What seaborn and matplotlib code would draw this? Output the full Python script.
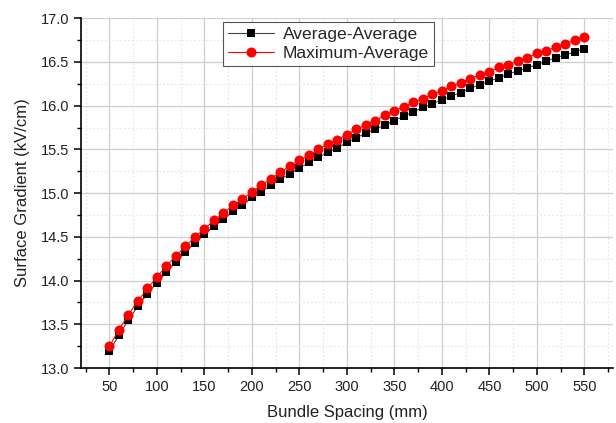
import numpy as np
import pandas as pd
import seaborn as sns
import matplotlib
matplotlib.use("Agg")
import matplotlib.pyplot as plt
from matplotlib.ticker import MultipleLocator
from matplotlib.lines import Line2D

spacing = list(range(50, 551, 10))
avg_avg = [13.19, 13.38, 13.55, 13.71, 13.85, 13.975, 14.10, 14.21, 14.33, 14.43,
           14.53, 14.62, 14.70, 14.79, 14.86, 14.95, 15.015, 15.09, 15.16, 15.22,
           15.29, 15.35, 15.41, 15.465, 15.52, 15.58, 15.63, 15.69, 15.73, 15.78,
           15.83, 15.88, 15.93, 15.98, 16.02, 16.07, 16.11, 16.15, 16.20, 16.24,
           16.28, 16.32, 16.36, 16.40, 16.43, 16.47, 16.51, 16.55, 16.58, 16.615,
           16.65]
max_avg = [13.25, 13.44, 13.61, 13.77, 13.91, 14.04, 14.17, 14.28, 14.39, 14.50,
           14.59, 14.69, 14.77, 14.86, 14.93, 15.015, 15.09, 15.165, 15.24, 15.31,
           15.377, 15.43, 15.50, 15.56, 15.61, 15.67, 15.73, 15.78, 15.83, 15.89,
           15.94, 15.99, 16.04, 16.08, 16.13, 16.17, 16.22, 16.26, 16.31, 16.35,
           16.39, 16.44, 16.47, 16.51, 16.55, 16.60, 16.63, 16.67, 16.71, 16.745,
           16.79]
series_names = ["Average-Average", "Maximum-Average"]
x_label = "Bundle Spacing (mm)"
y_label = "Surface Gradient (kV/cm)"

df = pd.DataFrame({
    "spacing": spacing * 2,
    "value": avg_avg + max_avg,
    "series": [series_names[0]] * len(spacing) + [series_names[1]] * len(spacing),
})

sns.set_style("white")
plt.rcParams["font.family"] = ["Liberation Sans", "DejaVu Sans"]

fig = plt.figure(figsize=(6.16, 4.23), dpi=100)
ax = fig.add_axes([0.1315, 0.13, 0.8635, 0.827])

ax.grid(True, which="major", color="#cfcfcf", linewidth=0.9, linestyle="-")
ax.grid(True, which="minor", color="#e6e6e6", linewidth=0.8, linestyle=(0, (1.5, 2)))
ax.set_axisbelow(True)

sns.lineplot(data=df, x="spacing", y="value", hue="series", style="series",
             palette={series_names[0]: "black", series_names[1]: "red"},
             markers={series_names[0]: "s", series_names[1]: "o"},
             dashes=False, markersize=7, linewidth=0.8,
             markeredgewidth=0, ax=ax, legend=False)

for ln, name in zip(ax.get_lines(), series_names):
    if name == series_names[0]:
        ln.set_color("#444444")
        ln.set_markerfacecolor("black")
        ln.set_markersize(6.3)
    else:
        ln.set_color("red")
        ln.set_markerfacecolor("red")
        ln.set_markersize(7.2)

ax.set_xlim(20, 580)
ax.set_ylim(13.0, 17.0)
ax.xaxis.set_major_locator(MultipleLocator(50))
ax.xaxis.set_minor_locator(MultipleLocator(25))
ax.yaxis.set_major_locator(MultipleLocator(0.5))
ax.yaxis.set_minor_locator(MultipleLocator(0.25))
ax.yaxis.set_major_formatter(matplotlib.ticker.FormatStrFormatter("%.1f"))

for s in ["top", "right"]:
    ax.spines[s].set_visible(False)
for s in ["left", "bottom"]:
    ax.spines[s].set_color("black")
    ax.spines[s].set_linewidth(1.2)

ax.tick_params(axis="both", which="major", direction="out", length=5, width=1.1,
               labelsize=10.5, color="black", labelcolor="#222222",
               bottom=True, left=True)
ax.tick_params(axis="both", which="minor", direction="out", length=3, width=1.0,
               color="black", bottom=True, left=True)

ax.set_xlabel(x_label, fontsize=12, color="#222222", labelpad=8)
ax.set_ylabel(y_label, fontsize=12, color="#222222", labelpad=8)

handles = [
    Line2D([], [], color="#444444", linewidth=0.8, marker="s", markersize=6.3,
           markerfacecolor="black", markeredgewidth=0),
    Line2D([], [], color="red", linewidth=0.8, marker="o", markersize=7.2,
           markerfacecolor="red", markeredgewidth=0),
]
leg = ax.legend(handles, series_names, loc="upper left",
                bbox_to_anchor=(0.267, 0.99), borderaxespad=0,
                fontsize=12.6, frameon=True,
                fancybox=False, edgecolor="#555555", framealpha=1,
                handlelength=2.6, borderpad=0.3, labelspacing=0.2,
                handletextpad=0.5)
leg.get_frame().set_linewidth(0.8)

fig.savefig("out.png", dpi=100)
